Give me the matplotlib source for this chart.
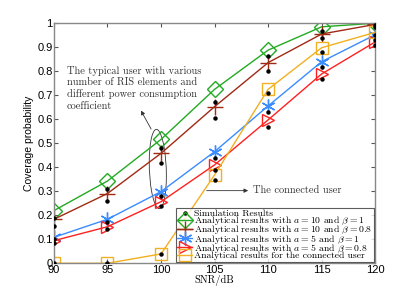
import numpy as np
import matplotlib.pyplot as plt
from matplotlib.patches import Ellipse

plt.rcParams['mathtext.fontset'] = 'cm'
plt.rcParams['font.family'] = ['Liberation Sans', 'DejaVu Sans']

# SNR axis
snr = [90, 95, 100, 105, 110, 115, 120]

# analytical curves
ana_a10_b1 = [0.219, 0.342, 0.515, 0.723, 0.886, 0.983, 0.998]
ana_a10_b08 = [0.183, 0.290, 0.457, 0.651, 0.834, 0.953, 0.993]
ana_a5_b1 = [0.108, 0.183, 0.298, 0.464, 0.654, 0.838, 0.950]
ana_a5_b08 = [0.094, 0.152, 0.256, 0.409, 0.596, 0.787, 0.920]
ana_conn = [0.0, 0.0, 0.039, 0.367, 0.723, 0.896, 0.960]

# simulation dots
sim_a10_b1 = [0.19, 0.31, 0.478, 0.672, 0.86, 0.965, 0.99]
sim_a10_b08 = [0.155, 0.26, 0.416, 0.605, 0.80, 0.935, 0.983]
sim_a5_b1 = [0.10, 0.173, 0.28, 0.436, 0.63, 0.817, 0.928]
sim_a5_b08 = [0.083, 0.144, 0.238, 0.388, 0.568, 0.766, 0.907]
sim_conn = [0.0, 0.0, 0.039, 0.346, 0.706, 0.88, 0.95]

labels = [
    r'Analytical results with $a=10$ and $\beta=1$',
    r'Analytical results with $a=10$ and $\beta=0.8$',
    r'Analytical results with $a=5$ and $\beta=1$',
    r'Analytical results with $a=5$ and $\beta=0.8$',
    'Analytical results for the connected user',
]

fig = plt.figure(figsize=(4.15, 2.97), dpi=100)
ax = fig.add_axes([0.130, 0.1135, 0.774, 0.81])

serif = 'cmr10'

# simulation first so it is first in legend
sims = [sim_a10_b1, sim_a10_b08, sim_a5_b1, sim_a5_b08, sim_conn]
for i, s in enumerate(sims):
    ax.plot(snr, s, linestyle='none', marker='o', ms=2.2, color='k', zorder=5,
            label='Simulation Results' if i == 0 else None)

ax.plot(snr, ana_a10_b1, color='#22aa22', lw=1, marker='D', ms=8, mfc='none', mew=1, label=labels[0])
ax.plot(snr, ana_a10_b08, color='#a02a14', lw=1, marker='+', ms=11, mew=1, label=labels[1])
ax.plot(snr, ana_a5_b1, color='#3a8cff', lw=1, marker=(6, 2, 0), ms=10, mew=1, label=labels[2])
ax.plot(snr, ana_a5_b08, color='#ff2020', lw=1, marker='>', ms=9, mfc='none', mew=1, label=labels[3])
ax.plot(snr, ana_conn, color='#f0b020', lw=1, marker='s', ms=8, mfc='none', mew=1, label=labels[4])

ax.set_xlim(90, 120)
ax.set_ylim(0, 1)
ax.set_xticks(snr)
ax.set_yticks(np.arange(0, 1.01, 0.1))
ax.set_yticklabels(['0', '0.1', '0.2', '0.3', '0.4', '0.5', '0.6', '0.7', '0.8', '0.9', '1'])
ax.tick_params(direction='in', top=True, right=True, labelsize=8, length=3, color='#555555', pad=1)
for sp in ax.spines.values():
    sp.set_color('#888888')
    sp.set_linewidth(1.0)

ax.set_xlabel('SNR/dB', family=serif, fontsize=7.5, labelpad=0)
ax.set_ylabel('Coverage probability', fontsize=7.5, labelpad=2)

# ellipse around the typical-user points
ax.add_patch(Ellipse((99.7, 0.392), 1.6, 0.325, angle=-2, fill=False, ec='#333333', lw=0.6))
ax.annotate('', xy=(98.0, 0.645), xytext=(99.2, 0.548),
            arrowprops=dict(arrowstyle='-|>', color='#333333', lw=0.6, mutation_scale=6))
ax.text(91.2, 0.82, 'The typical user with various\nnumber of RIS elements and\ndifferent power consumption\ncoefficient',
        family=serif, fontsize=7.5, va='top', ha='left', linespacing=1.25, color='#333333')

ax.annotate('', xy=(108.4, 0.302), xytext=(104.0, 0.302),
            arrowprops=dict(arrowstyle='-|>', color='#333333', lw=0.6, mutation_scale=6))
ax.text(108.6, 0.302, 'The connected user', family=serif, fontsize=7.5, va='center', ha='left', color='#333333')

leg = ax.legend(loc='lower right', prop={'family': serif, 'size': 7}, frameon=True, fancybox=False,
                edgecolor='#333333', borderpad=0.15, labelspacing=-0.32, handlelength=1.5,
                handletextpad=0.2, borderaxespad=0.15)
leg.get_frame().set_linewidth(0.8)

fig.savefig('out.png', dpi=100)
